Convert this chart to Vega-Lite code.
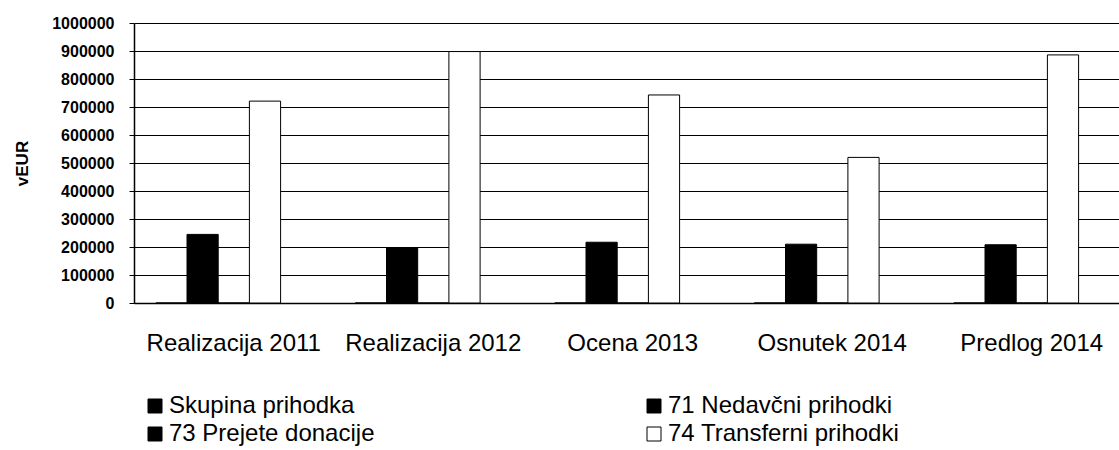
{
  "$schema": "https://vega.github.io/schema/vega-lite/v6.json",
  "width": 985,
  "height": 280,
  "autosize": "none",
  "padding": {"left": 134, "top": 23, "right": 0, "bottom": 147},
  "background": "white",
  "config": {"view": {"stroke": null}, "font": "Liberation Sans"},
  "data": {
    "values": [
      {"kategorija": "Realizacija 2011", "skupina": "Skupina prihodka", "vrednost": 0},
      {"kategorija": "Realizacija 2011", "skupina": "71 Nedavčni prihodki", "vrednost": 245000},
      {"kategorija": "Realizacija 2011", "skupina": "73 Prejete donacije", "vrednost": 0},
      {"kategorija": "Realizacija 2011", "skupina": "74 Transferni prihodki", "vrednost": 721000},
      {"kategorija": "Realizacija 2012", "skupina": "Skupina prihodka", "vrednost": 0},
      {"kategorija": "Realizacija 2012", "skupina": "71 Nedavčni prihodki", "vrednost": 197000},
      {"kategorija": "Realizacija 2012", "skupina": "73 Prejete donacije", "vrednost": 0},
      {"kategorija": "Realizacija 2012", "skupina": "74 Transferni prihodki", "vrednost": 898000},
      {"kategorija": "Ocena 2013", "skupina": "Skupina prihodka", "vrednost": 0},
      {"kategorija": "Ocena 2013", "skupina": "71 Nedavčni prihodki", "vrednost": 217000},
      {"kategorija": "Ocena 2013", "skupina": "73 Prejete donacije", "vrednost": 0},
      {"kategorija": "Ocena 2013", "skupina": "74 Transferni prihodki", "vrednost": 743000},
      {"kategorija": "Osnutek 2014", "skupina": "Skupina prihodka", "vrednost": 0},
      {"kategorija": "Osnutek 2014", "skupina": "71 Nedavčni prihodki", "vrednost": 210000},
      {"kategorija": "Osnutek 2014", "skupina": "73 Prejete donacije", "vrednost": 0},
      {"kategorija": "Osnutek 2014", "skupina": "74 Transferni prihodki", "vrednost": 520000},
      {"kategorija": "Predlog 2014", "skupina": "Skupina prihodka", "vrednost": 0},
      {"kategorija": "Predlog 2014", "skupina": "71 Nedavčni prihodki", "vrednost": 208000},
      {"kategorija": "Predlog 2014", "skupina": "73 Prejete donacije", "vrednost": 0},
      {"kategorija": "Predlog 2014", "skupina": "74 Transferni prihodki", "vrednost": 886000}
    ]
  },
  "mark": {"type": "bar", "stroke": "black", "strokeWidth": 1},
  "encoding": {
    "x": {
      "field": "kategorija",
      "type": "nominal",
      "sort": null,
      "scale": {"range": [0, 997.5], "paddingInner": 0, "paddingOuter": 0},
      "axis": {
        "title": null,
        "labelAngle": 0,
        "ticks": false,
        "domainColor": "black",
        "domainWidth": 1.5,
        "labelFontSize": 24,
        "labelColor": "black",
        "labelPadding": 28,
        "labelLimit": 300
      }
    },
    "xOffset": {
      "field": "skupina",
      "type": "nominal",
      "sort": null,
      "scale": {
        "domain": ["Skupina prihodka", "71 Nedavčni prihodki", "73 Prejete donacije", "74 Transferni prihodki"],
        "range": [21.8, 146.6],
        "paddingInner": 0,
        "paddingOuter": 0
      }
    },
    "y": {
      "field": "vrednost",
      "type": "quantitative",
      "scale": {"domain": [0, 1000000], "nice": false},
      "axis": {
        "title": "vEUR",
        "values": [0, 100000, 200000, 300000, 400000, 500000, 600000, 700000, 800000, 900000, 1000000],
        "format": "d",
        "grid": true,
        "gridColor": "black",
        "gridWidth": 1,
        "gridOpacity": 1,
        "domainColor": "black",
        "domainWidth": 1.5,
        "tickColor": "black",
        "tickSize": 5,
        "labelFontSize": 16,
        "labelFontWeight": "bold",
        "labelColor": "black",
        "labelPadding": 15,
        "titleFontSize": 17,
        "titleFontWeight": "bold",
        "titleColor": "black",
        "titlePadding": 20
      }
    },
    "color": {
      "field": "skupina",
      "type": "nominal",
      "sort": null,
      "scale": {
        "domain": ["Skupina prihodka", "71 Nedavčni prihodki", "73 Prejete donacije", "74 Transferni prihodki"],
        "range": ["black", "black", "black", "white"]
      },
      "legend": {
        "orient": "none",
        "direction": "horizontal",
        "legendX": 9,
        "legendY": 371,
        "columns": 2,
        "columnPadding": 267,
        "rowPadding": 4,
        "symbolType": "square",
        "symbolSize": 196,
        "symbolStrokeColor": "black",
        "symbolStrokeWidth": 1,
        "labelFontSize": 24,
        "labelColor": "black",
        "labelOffset": 2,
        "labelLimit": 400,
        "title": null,
        "padding": 0
      }
    }
  }
}
